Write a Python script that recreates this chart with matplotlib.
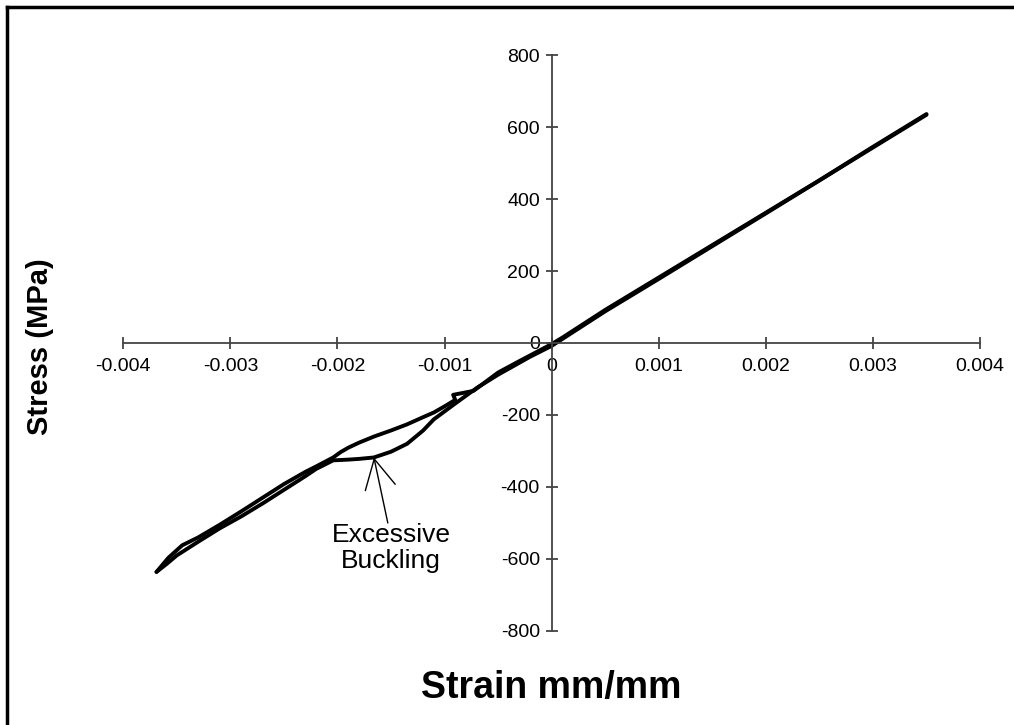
import matplotlib
matplotlib.use("Agg")
import matplotlib.pyplot as plt
from matplotlib.lines import Line2D

plt.rcParams['font.family'] = ['Liberation Sans', 'DejaVu Sans']

# Branch 1: from max tension down through zero to max compression (upper side of loops)
strain_down = [0.0035, 0.0030, 0.0025, 0.0020, 0.0015, 0.0010, 0.0005, 0.0001, 0.0,
               -0.0003, -0.0005, -0.00073, -0.00092, -0.00090, -0.0010, -0.0011, -0.0012,
               -0.00135, -0.0015, -0.00166, -0.0018, -0.0019, -0.00197, -0.00204,
               -0.0022, -0.0023, -0.0025, -0.0027, -0.0029, -0.0031, -0.0033,
               -0.00345, -0.00358, -0.00369]
stress_down = [636, 545, 452, 362, 272, 182, 92, 15, -3,
               -50, -82, -133, -144, -158, -176, -193, -206,
               -226, -243, -260, -277, -291, -303, -318,
               -343, -358, -392, -430, -468, -505, -540,
               -562, -597, -636]

# Branch 2: return from max compression back to max tension (lower side of loops)
strain_up = [-0.00369, -0.0036, -0.0035, -0.0033, -0.0031, -0.0029, -0.0027, -0.0025,
             -0.0023, -0.0022, -0.00204, -0.0019, -0.0018, -0.00166, -0.0015, -0.00135,
             -0.0012, -0.0011, -0.0010, -0.0009, -0.0007, -0.0005, -0.0002, 0.0,
             0.0005, 0.0010, 0.0020, 0.0030, 0.0035]
stress_up = [-636, -615, -590, -552, -515, -482, -446, -408,
             -370, -350, -326, -324, -322, -318, -302, -280,
             -243, -212, -190, -168, -125, -88, -38, -8,
             88, 178, 360, 543, 634]

x_ticks = [-0.004, -0.003, -0.002, -0.001, 0, 0.001, 0.002, 0.003, 0.004]
x_tick_labels = ['-0.004', '-0.003', '-0.002', '-0.001', '0', '0.001', '0.002', '0.003', '0.004']
y_ticks = [-800, -600, -400, -200, 0, 200, 400, 600, 800]
y_tick_labels = ['-800', '-600', '-400', '-200', '0', '200', '400', '600', '800']

annot_tip = (-0.00166, -318)
annot_tail = (-0.00153, -500)
annot_text_pos = (-0.0015, -570)

fig = plt.figure(figsize=(10.14, 7.25), dpi=100)
ax = fig.add_axes([0.1216, 0.1297, 0.8449, 0.7944])

ax.plot(strain_down, stress_down, color='black', lw=2.8, solid_joinstyle='round', solid_capstyle='round')
ax.plot(strain_up, stress_up, color='black', lw=2.8, solid_joinstyle='round', solid_capstyle='round')

ax.set_xlim(-0.004, 0.004)
ax.set_ylim(-800, 800)

for s in ['top', 'right']:
    ax.spines[s].set_visible(False)
ax.spines['left'].set_position(('data', 0))
ax.spines['bottom'].set_position(('data', 0))
for s in ['left', 'bottom']:
    ax.spines[s].set_color('#444444')
    ax.spines[s].set_linewidth(1.3)

ax.set_xticks(x_ticks)
ax.set_xticklabels(x_tick_labels)
ax.set_yticks(y_ticks)
ax.set_yticklabels(y_tick_labels)
ax.tick_params(axis='both', direction='inout', length=9, width=1.3, color='#444444',
               labelsize=14, labelcolor='black')
ax.tick_params(axis='x', pad=6)
ax.tick_params(axis='y', pad=4)

ax.annotate('', xy=annot_tip, xytext=annot_tail,
            arrowprops=dict(arrowstyle='->,head_length=1.05,head_width=0.55',
                            mutation_scale=20, lw=1.0, color='black',
                            shrinkA=0, shrinkB=0))
ax.text(annot_text_pos[0], annot_text_pos[1], 'Excessive\nBuckling', ha='center', va='center',
        fontsize=19, linespacing=1.1)

fig.text(40 / 1014, 1 - 347 / 725, 'Stress (MPa)', rotation=90, ha='center', va='center',
         fontsize=21, fontweight='bold')
fig.text(551 / 1014, 1 - 688 / 725, 'Strain mm/mm', ha='center', va='center',
         fontsize=27, fontweight='bold')

# page frame (top and left edges visible)
fig.add_artist(Line2D([7 / 1014, 1.0], [1 - 7 / 725, 1 - 7 / 725], transform=fig.transFigure,
                      color='black', lw=2.5))
fig.add_artist(Line2D([7 / 1014, 7 / 1014], [0.0, 1 - 7 / 725], transform=fig.transFigure,
                      color='black', lw=2.5))

fig.savefig('out.png', dpi=100)
